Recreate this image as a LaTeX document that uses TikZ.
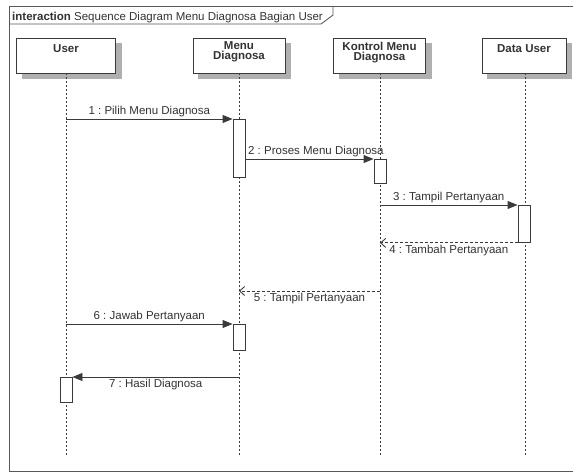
\documentclass[tikz,border=0pt]{standalone}
\usepackage{fontspec}
\setmainfont{Liberation Sans}
\frenchspacing
\usetikzlibrary{arrows.meta}
\definecolor{lc}{HTML}{3A3A3A}
\definecolor{tc}{HTML}{333333}
\definecolor{sh}{HTML}{B0B0B0}
\tikzset{
  headbox/.style={draw=lc, fill=white, line width=0.9pt, minimum height=35pt, inner sep=0pt},
  headtxt/.style={anchor=north, font=\fontsize{11.5}{11.5}\selectfont\bfseries, text=tc, align=center, inner sep=0pt},
  lifeline/.style={draw=lc, line width=0.9pt, dash pattern=on 2pt off 2pt},
  actbox/.style={draw=lc, fill=white, line width=0.9pt, minimum width=12pt, inner sep=0pt},
  msg/.style={draw=lc, line width=0.9pt, -{Triangle[length=10pt,width=8pt]}},
  ret/.style={draw=lc, line width=0.9pt, dash pattern=on 3pt off 2pt, -{Straight Barb[length=5pt,width=9pt]}},
  lbl/.style={font=\fontsize{11.5}{11.5}\selectfont\frenchspacing, text=tc, inner sep=1.5pt},
}
\begin{document}
\begin{tikzpicture}[x=1pt,y=-1pt]
\useasboundingbox (0,0) rectangle (573,473);
\fill[white] (0,0) rectangle (573,473);
% frame
\draw[draw=black!65, line width=1pt] (9,7) rectangle (590,471);
\draw[draw=black!65, line width=0.9pt] (9,24) -- (321,24) -- (333,15) -- (333,7);
\node[anchor=base west, inner sep=0pt, font=\fontsize{11.5}{11.5}\selectfont, text=tc] (title) at (12,20.5) {\textbf{interaction} Sequence Diagram Menu Diagnosa Bagian User};
% head shadows
\fill[sh] (21.5,43) rectangle (121.5,79);
\fill[sh] (198,43) rectangle (291,79);
\fill[sh] (338.5,43) rectangle (431.5,79);
\fill[sh] (487,43) rectangle (572,79);
% heads
\node[headbox, minimum width=99pt] (u) at (66,55.5) {};
\node[headbox, minimum width=92pt] (m) at (239,55.5) {};
\node[headbox, minimum width=92pt] (k) at (379.5,55.5) {};
\node[headbox, minimum width=84pt] (d) at (524,55.5) {};
\node[headtxt] (ut) at ([yshift=-7pt]u.north) {User};
\node[headtxt] (mt) at ([yshift=-4pt]m.north) {Menu\\[-1.5pt]Diagnosa};
\node[headtxt] (kt) at ([yshift=-4pt]k.north) {Kontrol Menu\\[-1.5pt]Diagnosa};
\node[headtxt] (dt) at ([yshift=-7pt]d.north) {Data User};
% lifeline ends
\coordinate (ue) at (66,455);
\coordinate (me) at (239,455);
\coordinate (ke) at (380,455);
\coordinate (de) at (525,455);
\draw[lifeline] (u.south) -- (ue);
\draw[lifeline] (m.south) -- (me);
\draw[lifeline] (k.south -| ke) -- (ke);
\draw[lifeline] (d.south -| de) -- (de);
% activations
\node[actbox, minimum height=58pt, anchor=north] (a1) at (239,119) {};
\node[actbox, minimum height=24pt, anchor=north] (a2) at (380,159) {};
\node[actbox, minimum height=37pt, anchor=north] (a3) at (524,205) {};
\node[actbox, minimum height=26pt, anchor=north] (a6) at (239,324) {};
\node[actbox, minimum height=25pt, anchor=north] (a7) at (66,377) {};
% messages
\draw[msg] (ue |- a1.north) -- node[lbl, above] (l1) {1 : Pilih Menu Diagnosa} (a1.north west);
\draw[msg] (a1.east |- a2.north) -- node[lbl, above, pos=0.55] (l2) {2 : Proses Menu Diagnosa} (a2.north west);
\draw[msg] (ke |- a3.north) -- node[lbl, above] (l3) {3 : Tampil Pertanyaan} (a3.north west);
\draw[ret] (a3.south west) -- node[lbl, below] (l4) {4 : Tambah Pertanyaan} (ke |- a3.south);
\coordinate (r5) at (380,291);
\draw[ret] (r5) -- node[lbl, below] (l5) {5 : Tampil Pertanyaan} (me |- r5);
\draw[msg] (ue |- a6.north) -- node[lbl, above] (l6) {6 : Jawab Pertanyaan} (a6.north west);
\draw[msg] (me |- a7.north) -- node[lbl, below] (l7) {7 : Hasil Diagnosa} (a7.north east);
\end{tikzpicture}
\end{document}
